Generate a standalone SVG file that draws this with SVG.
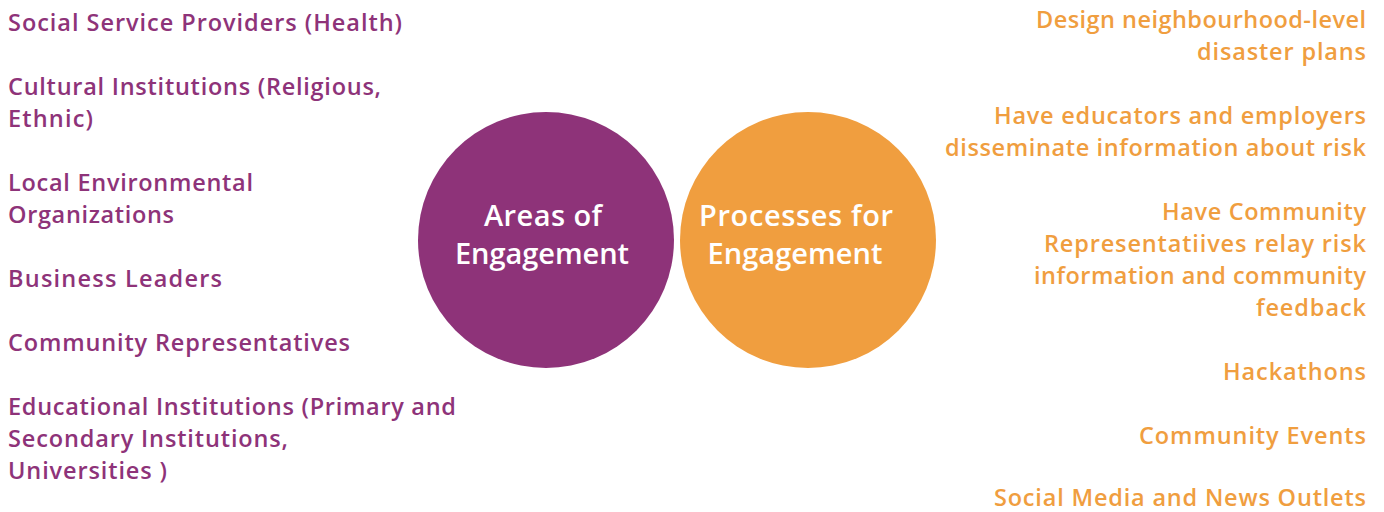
<svg xmlns="http://www.w3.org/2000/svg" width="1384" height="512" viewBox="0 0 1384 512">
<style>
text{font-family:"Open Sans","Liberation Sans",sans-serif;font-weight:600;font-size:23.5px}
.p{fill:#8E3379}
.o{fill:#F09E3F;text-anchor:end}
.c{fill:#FFFFFF;font-size:29px;text-anchor:middle}
</style>
<rect width="1384" height="512" fill="#FFFFFF"/>
<g id="areas">
<circle cx="546" cy="240" r="128" fill="#8E3379"/>
<text class="c" x="543" y="226" textLength="118" lengthAdjust="spacing">Areas of</text>
<text class="c" x="542" y="264" textLength="174" lengthAdjust="spacing">Engagement</text>
</g>
<g id="processes">
<circle cx="808" cy="240" r="128" fill="#F09E3F"/>
<text class="c" x="796" y="226" textLength="194" lengthAdjust="spacing">Processes for</text>
<text class="c" x="795" y="264" textLength="175" lengthAdjust="spacing">Engagement</text>
</g>
<g id="connectors"></g>
<g id="left-list">
<text class="p" x="8" y="31" textLength="394" lengthAdjust="spacing">Social Service Providers (Health)</text>
<text class="p" x="8" y="95" textLength="373" lengthAdjust="spacing">Cultural Institutions (Religious,</text>
<text class="p" x="8" y="127" textLength="85" lengthAdjust="spacing">Ethnic)</text>
<text class="p" x="8" y="191" textLength="245" lengthAdjust="spacing">Local Environmental</text>
<text class="p" x="8" y="223" textLength="166" lengthAdjust="spacing">Organizations</text>
<text class="p" x="8" y="287" textLength="214" lengthAdjust="spacing">Business Leaders</text>
<text class="p" x="8" y="351" textLength="342" lengthAdjust="spacing">Community Representatives</text>
<text class="p" x="8" y="415" textLength="448" lengthAdjust="spacing">Educational Institutions (Primary and</text>
<text class="p" x="8" y="447" textLength="280" lengthAdjust="spacing">Secondary Institutions,</text>
<text class="p" x="8" y="479" textLength="159" lengthAdjust="spacing">Universities )</text>
</g>
<g id="right-list">
<text class="o" x="1366" y="28" textLength="330" lengthAdjust="spacing">Design neighbourhood-level</text>
<text class="o" x="1366" y="60" textLength="169" lengthAdjust="spacing">disaster plans</text>
<text class="o" x="1366" y="124" textLength="372" lengthAdjust="spacing">Have educators and employers</text>
<text class="o" x="1366" y="156" textLength="421" lengthAdjust="spacing">disseminate information about risk</text>
<text class="o" x="1366" y="220" textLength="204" lengthAdjust="spacing">Have Community</text>
<text class="o" x="1366" y="252" textLength="322" lengthAdjust="spacing">Representatiives relay risk</text>
<text class="o" x="1366" y="284" textLength="332" lengthAdjust="spacing">information and community</text>
<text class="o" x="1366" y="316" textLength="110" lengthAdjust="spacing">feedback</text>
<text class="o" x="1366" y="380" textLength="143" lengthAdjust="spacing">Hackathons</text>
<text class="o" x="1366" y="444" textLength="227" lengthAdjust="spacing">Community Events</text>
<text class="o" x="1366" y="506" textLength="372" lengthAdjust="spacing">Social Media and News Outlets</text>
</g>
</svg>
